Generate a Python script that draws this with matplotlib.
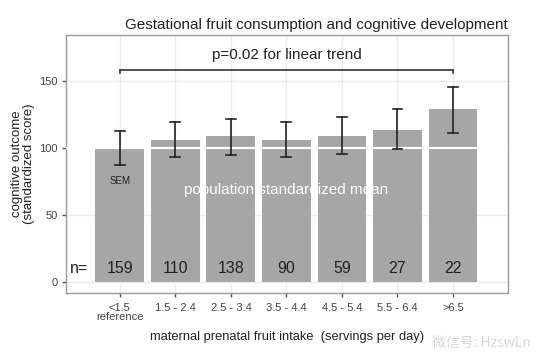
import matplotlib
matplotlib.use("Agg")
import matplotlib.pyplot as plt

categories = ["<1.5\nreference", "1.5 - 2.4", "2.5 - 3.4", "3.5 - 4.4", "4.5 - 5.4", "5.5 - 6.4", ">6.5"]
means = [100, 106, 108.5, 106, 109, 113.5, 129]
err_low = [87.5, 93.3, 95, 93.3, 95.8, 99, 111]
err_high = [112.4, 119.2, 121.6, 119.2, 122.9, 128.9, 145.3]
counts = ["159", "110", "138", "90", "59", "27", "22"]
yticks = [0, 50, 100, 150]

plt.rcParams['font.family'] = ['Liberation Sans', 'DejaVu Sans']
fig = plt.figure(figsize=(5.54, 3.58), dpi=100)
ax = fig.add_axes([66/554, 1-293/358, (508-66)/554, (293-35)/358])

x = list(range(1, len(categories) + 1))
ax.set_xlim(0.03, 7.99)
ax.set_ylim(-8, 184)

for yv in yticks:
    ax.axhline(yv, color="#ececec", lw=1, zorder=0)
for xv in x:
    ax.axvline(xv, color="#ececec", lw=1, zorder=0)

ax.bar(x, means, width=0.88, color="#a6a6a6", zorder=2)
ax.axhline(100, color="white", lw=1.6, zorder=3)

for xi, lo, hi in zip(x, err_low, err_high):
    ax.plot([xi, xi], [lo, hi], color="#222222", lw=1.2, zorder=4)
    ax.plot([xi - 0.09, xi + 0.09], [lo, lo], color="#222222", lw=1.2, zorder=4)
    ax.plot([xi - 0.09, xi + 0.09], [hi, hi], color="#222222", lw=1.2, zorder=4)

for xi, c in zip(x, counts):
    ax.text(xi, 10, c, ha="center", va="center", fontsize=11.5, color="#222222", zorder=5)
ax.text(0.27, 10, "n=", ha="center", va="center", fontsize=11.5, color="#222222", zorder=5)

ax.text(1, 75, "SEM", ha="center", va="center", fontsize=7, color="#222222", zorder=5)
ax.text(4, 69, "population standardized mean", ha="center", va="center", fontsize=11,
        color="white", zorder=5)

ax.plot([1, 7], [158, 158], color="#333333", lw=1.2, zorder=4)
ax.plot([1, 1], [158, 156], color="#333333", lw=1.2, zorder=4)
ax.plot([7, 7], [158, 156], color="#333333", lw=1.2, zorder=4)
ax.text(4, 169, "p=0.02 for linear trend", ha="center", va="center", fontsize=11, color="#222222")

ax.set_xticks(x)
ax.set_xticklabels(categories, fontsize=8, color="#444444", linespacing=0.95)
ax.set_yticks(yticks)
ax.set_yticklabels([str(v) for v in yticks], fontsize=8, color="#444444")
ax.tick_params(axis="x", length=3, width=1, color="#555555", pad=4)
ax.tick_params(axis="y", length=3, width=1, color="#555555", pad=3)

for s in ax.spines.values():
    s.set_color("#999999")
    s.set_linewidth(1)

ax.set_ylabel("cognitive outcome\n(standardized score)", fontsize=9.5, color="#222222",
              linespacing=1.0, labelpad=3)
ax.set_xlabel("maternal prenatal fruit intake  (servings per day)", fontsize=9.3, color="#222222",
              labelpad=6)
fig.text(508/554, 1-25/358, "Gestational fruit consumption and cognitive development",
         ha="right", va="center", fontsize=11, color="#222222")

fig.text(432/554, 1-343/358, "微信号: HzswLn", ha="left", va="center", fontsize=10,
         color="#d8d8d8", family=["Noto Sans CJK SC", "DejaVu Sans"])

fig.savefig("out.png", dpi=100)
